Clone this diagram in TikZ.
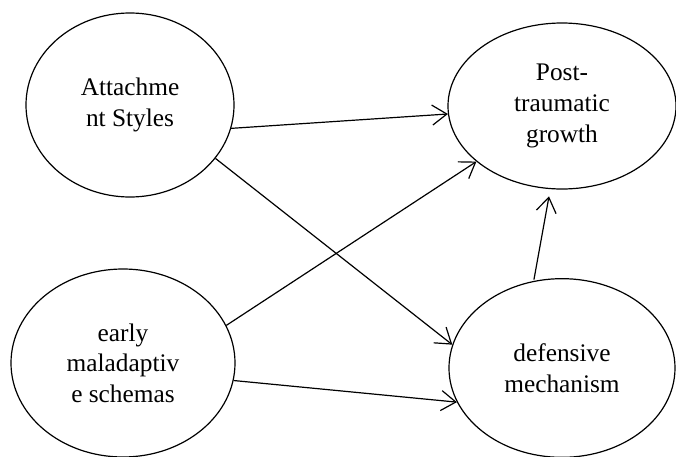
\documentclass[tikz,border=0pt]{standalone}
\usepackage{fontspec}
\setmainfont{LiberationSerif}[Extension=.ttf, UprightFont=*-Regular]
\usetikzlibrary{arrows.meta,shapes.geometric}

\begin{document}
\begin{tikzpicture}[
    x=0.75pt, y=-0.75pt,
    var/.style={ellipse, draw, line width=0.9pt, inner sep=0pt, align=center, font=\rmfamily\fontsize{19}{23}\selectfont},
    link/.style={line width=0.9pt, -{Straight Barb[length=11pt,width=15pt,line width=0.9pt]}},
]
    \useasboundingbox (0,0) rectangle (676,457);
    \node[var, minimum width=156pt, minimum height=138pt] (att) at (130,105) {Attachme\\nt Styles};
    \node[var, minimum width=171pt, minimum height=124.5pt] (ptg) at (562,106) {Post-\\traumatic\\growth};
    \node[var, minimum width=168pt, minimum height=141pt] (ems) at (123,363) {early\\maladaptiv\\e schemas};
    \node[var, minimum width=169.5pt, minimum height=134pt] (def) at (562,368) {defensive\\mechanism};

    \draw[link] (att.-13) -- (ptg.184);
    \draw[link] (att.-32) -- (def.168.6);
    \draw[link] (ems.20.4) -- (ptg.213.5);
    \draw[link] (ems.-9) -- (def.198);
    \draw[link, shorten <=1pt, shorten >=5.5pt] (def.108) -- (ptg.262);
\end{tikzpicture}
\end{document}
